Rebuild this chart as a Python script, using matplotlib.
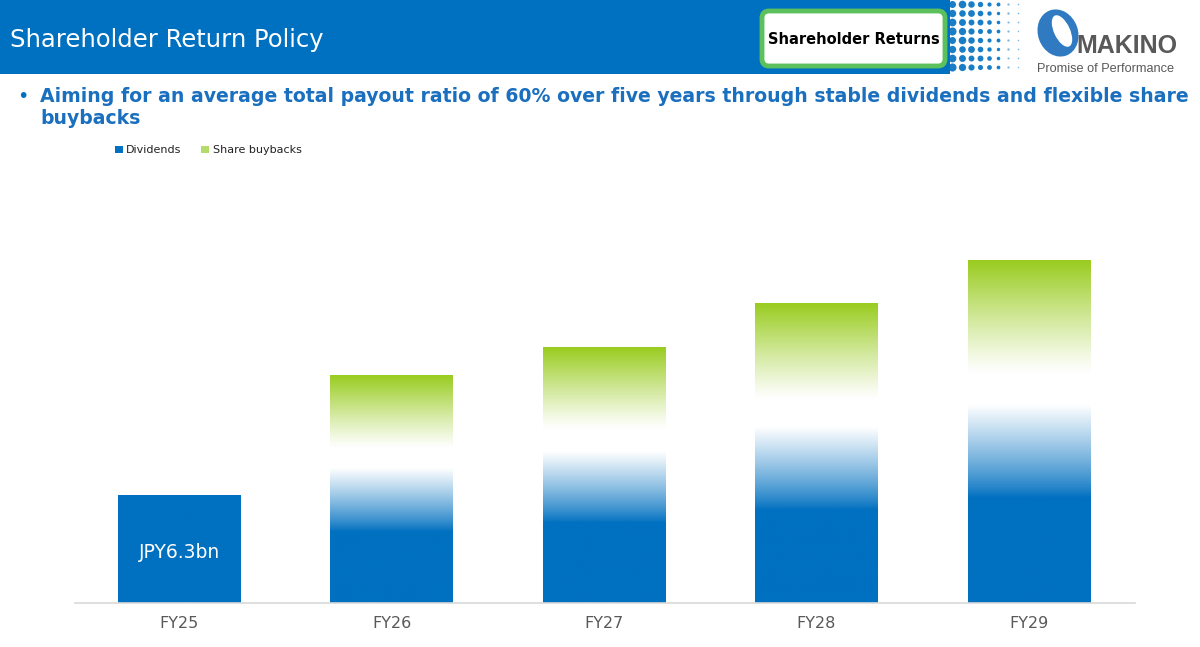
import numpy as np
import matplotlib
matplotlib.use("Agg")
import matplotlib.pyplot as plt
from matplotlib.patches import Rectangle, FancyBboxPatch, Ellipse, Patch
from matplotlib.colors import to_rgb

# ---- data ----
categories = ["FY25", "FY26", "FY27", "FY28", "FY29"]
dividends = [6.3, 8.0, 9.0, 10.5, 11.8]
buybacks = [0.0, 5.3, 5.9, 7.0, 8.2]
fy25_label = "JPY6.3bn"
legend_labels = ["Dividends", "Share buybacks"]
title = "Shareholder Return Policy"
subtitle_line1 = "Aiming for an average total payout ratio of 60% over five years through stable dividends and flexible share"
subtitle_line2 = "buybacks"
badge = "Shareholder Returns"

BLUE = "#0070C0"
GREEN = "#99CC1F"
W, H = 1200, 647

fig = plt.figure(figsize=(W / 100, H / 100), dpi=100)
fig.patch.set_facecolor("white")

# ---- decoration overlay in pixel coordinates ----
deco = fig.add_axes([0, 0, 1, 1], zorder=0)
deco.set_xlim(0, W)
deco.set_ylim(H, 0)
deco.axis("off")

deco.add_patch(Rectangle((0, 0), 950, 74, color=BLUE, lw=0))
# halftone dots
cols_x = [952, 962, 971, 980, 989, 998, 1008, 1018]
col_s = [34, 30, 24, 18, 12, 8, 3, 1.5]
rows_y = [4, 13, 22, 31, 40, 49, 58, 67]
for i, cx in enumerate(cols_x):
    for j, cy in enumerate(rows_y):
        s = col_s[i] * (0.75 + 0.25 * ((i * 3 + j * 5) % 4) / 3)
        deco.scatter(cx, cy, s=s, color=BLUE, lw=0, alpha=0.9 if i < 6 else 0.5)

deco.text(10, 40, title, color="white", fontsize=17.5, va="center", ha="left",
          family="DejaVu Sans")

# badge
deco.add_patch(FancyBboxPatch((762, 11), 183, 55, boxstyle="round,pad=0,rounding_size=7",
                              fc="white", ec="#5CC15C", lw=3.5))
deco.text(854, 39, badge, fontsize=10.5, va="center", ha="center", color="black",
          family="DejaVu Sans", fontweight="bold")

# logo
deco.add_patch(Ellipse((1058, 33), 40, 48, angle=-20, color="#2F7AC0", lw=0))
deco.add_patch(Ellipse((1062, 31), 16, 34, angle=-25, color="white", lw=0))
deco.text(1076, 46, "MAKINO", fontsize=18, fontweight="bold", color="#595959",
          va="center", ha="left", family="Liberation Sans")
deco.text(1106, 69, "Promise of Performance", fontsize=9.2, color="#595959",
          va="center", ha="center", family="Liberation Sans")

# subtitle
deco.text(17, 96, "\u2022", fontsize=14, color=BLUE, va="center", ha="left")
deco.text(40, 96, subtitle_line1, fontsize=13.6, color="#1A6FBF", va="center", ha="left",
          fontweight="bold", family="DejaVu Sans")
deco.text(40, 118, subtitle_line2, fontsize=13.6, color="#1A6FBF", va="center", ha="left",
          fontweight="bold", family="DejaVu Sans")

# ---- chart axes ----
ax_left, ax_right, ax_bottom, ax_top = 75, 1135, 603, 170
ax = fig.add_axes([ax_left / W, 1 - ax_bottom / H, (ax_right - ax_left) / W,
                   (ax_bottom - ax_top) / H], zorder=1)
ax.patch.set_alpha(0)
x = np.arange(len(categories))
width = 0.575

div_bars = ax.bar(x, dividends, width, color="none", lw=0)
bb_bars = ax.bar(x, buybacks, width, bottom=dividends, color="none", lw=0)

blue = np.array(to_rgb(BLUE))
green = np.array(to_rgb(GREEN))
white = np.ones(3)
n = 256
t = np.linspace(0, 1, n)[:, None]  # 0 bottom -> 1 top

# dividend gradient: solid blue lower ~52%, fade to white at top
f = np.clip((t - 0.52) / 0.46, 0, 1) ** 0.85
div_grad = blue * (1 - f) + white * f
# buyback gradient: white at bottom, green at top
g = np.clip((t - 0.2) / 0.8, 0, 1) ** 1.1
bb_grad = white * (1 - g) + green * g

for i, (rd, rb) in enumerate(zip(div_bars, bb_bars)):
    x0, w_ = rd.get_x(), rd.get_width()
    if buybacks[i] > 0:
        img = div_grad[:, None, :].repeat(2, axis=1)
    else:
        img = np.tile(blue, (2, 2, 1))
    ax.imshow(img, extent=[x0, x0 + w_, rd.get_y(), rd.get_y() + rd.get_height()],
              origin="lower", aspect="auto", zorder=2, interpolation="bilinear")
    if rb.get_height() > 0:
        img2 = bb_grad[:, None, :].repeat(2, axis=1)
        ax.imshow(img2, extent=[x0, x0 + w_, rb.get_y(), rb.get_y() + rb.get_height()],
                  origin="lower", aspect="auto", zorder=2, interpolation="bilinear")

ax.text(x[0], dividends[0] * 0.5 - 0.2, fy25_label, color="white", fontsize=13.5,
        ha="center", va="center", zorder=3)

ax.set_xlim(-0.49, len(categories) - 0.5)
ax.set_ylim(0, (ax_bottom - ax_top) / 17.14)
ax.set_xticks(x)
ax.set_xticklabels(categories, fontsize=11.5, color="#595959")
ax.tick_params(axis="x", length=0, pad=9)
ax.set_yticks([])
for s in ["top", "right", "left"]:
    ax.spines[s].set_visible(False)
ax.spines["bottom"].set_color("#D9D9D9")
ax.spines["bottom"].set_linewidth(1.2)

handles = [Patch(facecolor=BLUE, edgecolor="none"), Patch(facecolor="#B5DB6A", edgecolor="none")]
fig.legend(handles, legend_labels, loc="upper left", bbox_to_anchor=(105 / W, 1 - 135 / H),
           frameon=False, fontsize=8, handlelength=0.7, handleheight=0.6,
           handletextpad=0.3, columnspacing=1.8, ncol=2, labelcolor="#222222")

fig.savefig("out.png", dpi=100)
